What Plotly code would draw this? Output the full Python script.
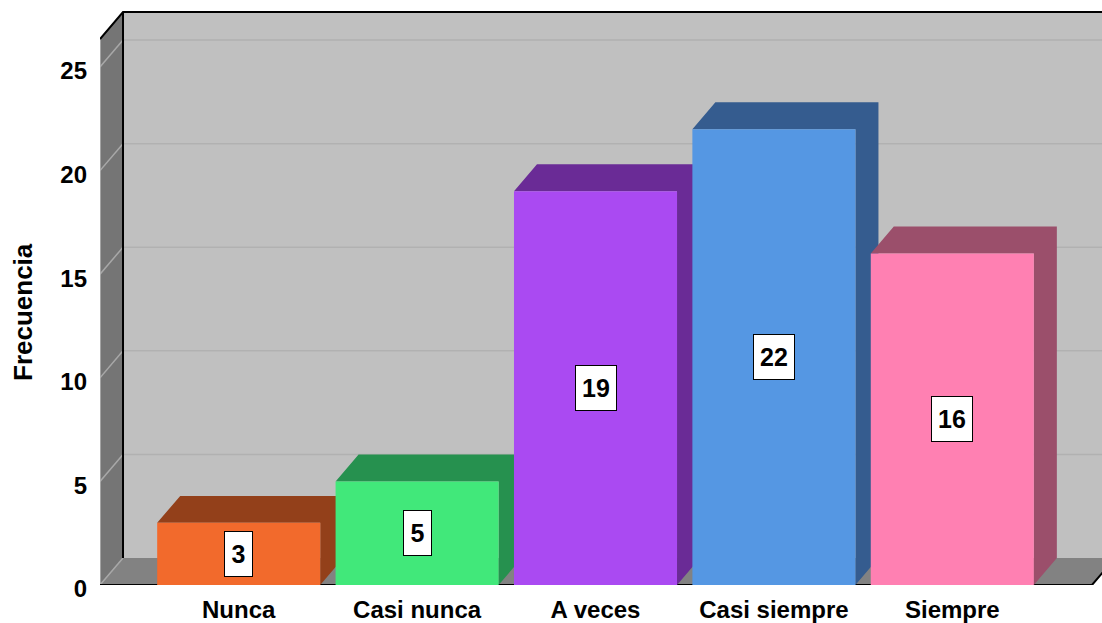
import plotly.graph_objects as go

# ---- data ----
categories = ["Nunca", "Casi nunca", "A veces", "Casi siempre", "Siempre"]
frequencies = [3, 5, 19, 22, 16]
front_colors = ["#f26a2c", "#41e87a", "#aa4af2", "#5597e3", "#ff80b2"]
shade_colors = ["#93401a", "#26914f", "#6a2b96", "#355c8f", "#9b4f6b"]
y_ticks = [0, 5, 10, 15, 20, 25]

# ---- pseudo-3D geometry (data units) ----
BAR_W = 0.914
DX = 0.129          # depth offset along x (category units)
DY = 1.30           # depth offset along y (value units)
X0 = -0.7775        # front-left corner of the floor
XR = 4.783          # front-right corner of the floor
YTOP = 26.35        # top of the front value scale
X_MAX = X0 + 1002 / 178.4
Y_MAX = 27.75

FONT = "Liberation Sans, Arial, sans-serif"

fig = go.Figure()

for i, (cat, v) in enumerate(zip(categories, frequencies)):
    l = i - BAR_W / 2
    r = i + BAR_W / 2
    # top + right side face
    fig.add_trace(go.Scatter(
        x=[l, r, r, r + DX, r + DX, l + DX, l],
        y=[v, v, 0, DY, v + DY, v + DY, v],
        mode="lines", fill="toself", fillcolor=shade_colors[i],
        line=dict(width=0, color=shade_colors[i]),
        hoverinfo="skip", showlegend=False, zorder=2 * i + 1,
    ))
    # front face
    fig.add_trace(go.Bar(
        x=[i], y=[v], width=BAR_W,
        marker=dict(color=front_colors[i], line=dict(width=0)),
        name=cat, showlegend=False, zorder=2 * i + 2,
    ))
    fig.add_annotation(
        x=i, y=v / 2, xref="x", yref="y", text=str(v), showarrow=False,
        font=dict(family=FONT, size=25, color="black", weight="bold"),
        bgcolor="white", bordercolor="black", borderwidth=1, borderpad=0,
        width=27 if v < 10 else 40, height=44,
    )

shapes = []
# left wall
shapes.append(dict(type="path", xref="x", yref="y", layer="below",
                   path=f"M {X0},0 L {X0},{YTOP} L {X0 + DX},{YTOP + DY} L {X0 + DX},{DY} Z",
                   fillcolor="#757575", line=dict(width=0)))
# floor
shapes.append(dict(type="path", xref="x", yref="y", layer="below",
                   path=f"M {X0},0 L {XR},0 L {XR + DX},{DY} L {X0 + DX},{DY} Z",
                   fillcolor="#828282", line=dict(width=0)))
# back wall
shapes.append(dict(type="rect", xref="x", yref="y", layer="below",
                   x0=X0 + DX, x1=XR + DX, y0=DY, y1=YTOP + DY,
                   fillcolor="#c0c0c0", line=dict(width=0)))
# gridlines
for t in y_ticks[1:]:
    shapes.append(dict(type="line", xref="x", yref="y", layer="below",
                       x0=X0 + DX, x1=XR + DX, y0=t + DY, y1=t + DY,
                       line=dict(color="#b1b1b1", width=1.5)))
    shapes.append(dict(type="line", xref="x", yref="y", layer="below",
                       x0=X0, x1=X0 + DX, y0=t, y1=t + DY,
                       line=dict(color="#a8a8a8", width=1.5)))
shapes.append(dict(type="line", xref="x", yref="y", layer="below",
                   x0=X0, x1=X0 + DX, y0=0, y1=DY,
                   line=dict(color="#a8a8a8", width=1.5)))
# left wall front edge (light)
shapes.append(dict(type="line", xref="x", yref="y", layer="below",
                   x0=X0, x1=X0, y0=0, y1=YTOP,
                   line=dict(color="#b5b5b5", width=1.5)))
# black edges
shapes.append(dict(type="path", xref="x", yref="y", layer="below",
                   path=f"M {X0},{YTOP} L {X0 + DX},{YTOP + DY} L {XR + DX},{YTOP + DY}",
                   line=dict(color="black", width=2)))
shapes.append(dict(type="line", xref="x", yref="y", layer="below",
                   x0=X0 + DX, x1=X0 + DX, y0=DY, y1=YTOP + DY,
                   line=dict(color="black", width=2)))
shapes.append(dict(type="path", xref="x", yref="y", layer="below",
                   path=f"M {X0},0 L {XR},0 L {XR + DX},{DY}",
                   line=dict(color="black", width=2)))

fig.add_annotation(
    x=0, xref="paper", xanchor="center", xshift=-77,
    y=YTOP / 2, yref="y", yanchor="middle",
    text="Frecuencia", textangle=-90, showarrow=False,
    font=dict(family=FONT, size=26, color="black", weight="bold"),
)

fig.update_layout(
    width=1102, height=623,
    margin=dict(l=100, r=0, t=10, b=38, autoexpand=False),
    paper_bgcolor="white", plot_bgcolor="white",
    barmode="overlay", shapes=shapes, showlegend=False,
    xaxis=dict(range=[X0, X_MAX], tickvals=list(range(len(categories))),
               ticktext=categories, showgrid=False, zeroline=False,
               showline=False, ticks="", ticklabelstandoff=8,
               tickfont=dict(family=FONT, size=24, color="black", weight="bold"),
               fixedrange=True),
    yaxis=dict(range=[0, Y_MAX], tickvals=y_ticks, showgrid=False,
               zeroline=False, showline=False, ticks="",
               ticklabelstandoff=12, ticklabelshift=4,
               tickfont=dict(family=FONT, size=24, color="black", weight="bold"),
               fixedrange=True),
)

fig.write_html("out.html")
